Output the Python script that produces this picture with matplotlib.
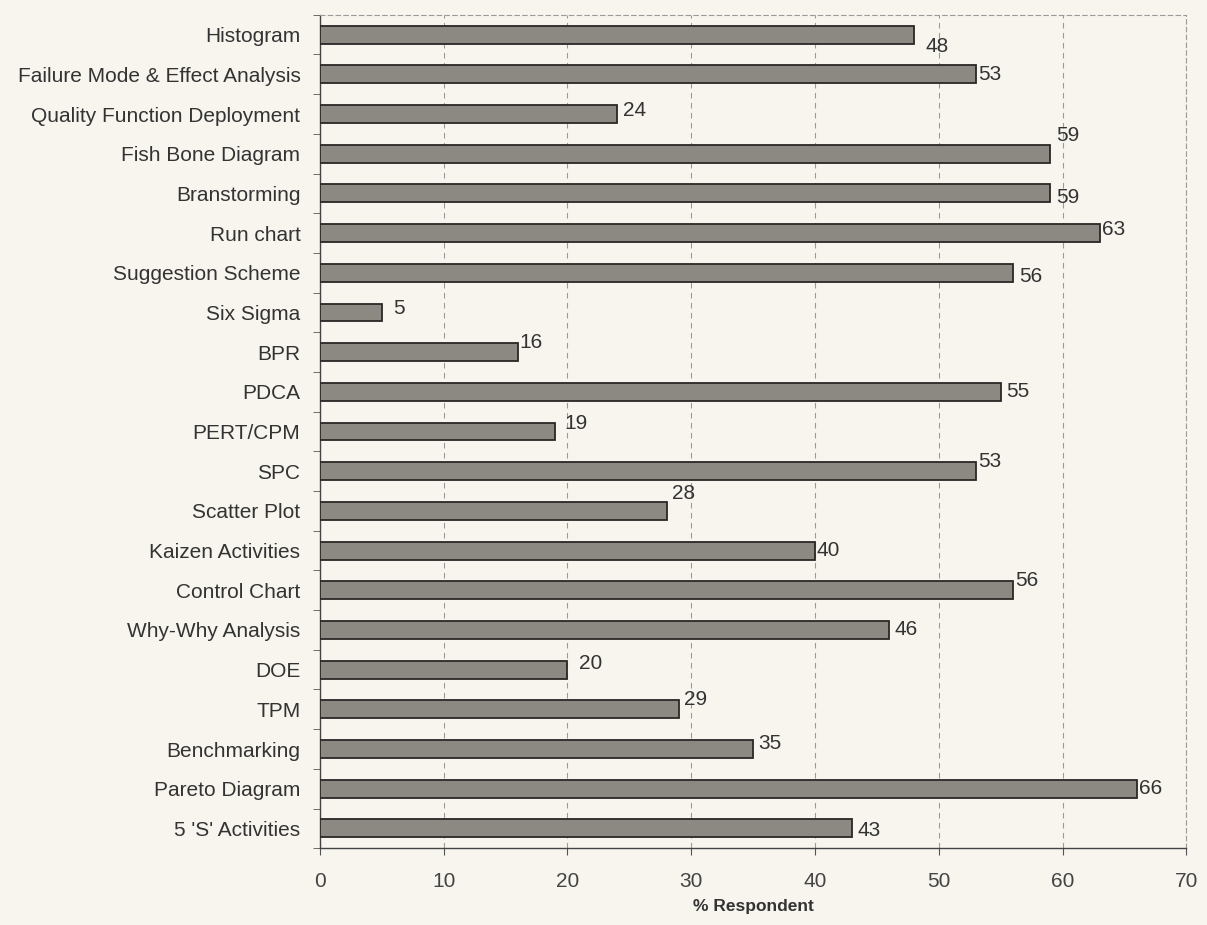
import matplotlib
matplotlib.use("Agg")
import matplotlib.pyplot as plt
import numpy as np

categories = ["Histogram", "Failure Mode & Effect Analysis", "Quality Function Deployment",
              "Fish Bone Diagram", "Branstorming", "Run chart", "Suggestion Scheme",
              "Six Sigma", "BPR", "PDCA", "PERT/CPM", "SPC", "Scatter Plot",
              "Kaizen Activities", "Control Chart", "Why-Why Analysis", "DOE", "TPM",
              "Benchmarking", "Pareto Diagram", "5 'S' Activities"]
values = [48, 53, 24, 59, 59, 63, 56, 5, 16, 55, 19, 53, 28, 40, 56, 46, 20, 29, 35, 66, 43]
xticks = [0, 10, 20, 30, 40, 50, 60, 70]

# label offsets to mimic placement (dx in data units, dy in category units, positive = up)
label_dx = [0.8, 0.0, 0.3, 0.3, 0.3, 0.0, 0.3, 0.8, 0.0, 0.3, 0.6, 0.0, 0.3,
            0.0, 0.0, 0.3, 0.8, 0.3, 0.3, 0.0, 0.3]
label_dy = [-0.3, 0.0, 0.1, 0.45, -0.1, 0.1, -0.1, 0.1, 0.25, 0.0, 0.2, 0.25, 0.45,
            0.0, 0.25, 0.0, 0.15, 0.25, 0.15, 0.0, -0.05]

plt.rcParams['font.family'] = ['Liberation Sans', 'DejaVu Sans']
bg = "#f7f5ee"
fig = plt.figure(figsize=(12.07, 9.25), dpi=100, facecolor=bg)
ax = fig.add_axes([0.265, 0.083, 0.718, 0.901], facecolor=bg)

y = np.arange(len(categories))
ax.barh(y, values, height=0.45, color="#8c8882", edgecolor="#2a2826", linewidth=1.3, zorder=3)
for yi, v, dx, dy in zip(y, values, label_dx, label_dy):
    ax.text(v + 0.15 + dx, yi - dy, str(v), va="center", ha="left", fontsize=15,
            color="#333333", zorder=4)

ax.set_ylim(len(categories) - 0.5, -0.5)
ax.set_xlim(0, 70)
ax.set_yticks(y)
ax.set_yticklabels(categories, fontsize=15, color="#333333")
ax.set_yticks(np.arange(-0.5, len(categories), 1), minor=True)
ax.tick_params(axis="y", which="major", length=0, pad=14)
ax.tick_params(axis="y", which="minor", length=5, color="#555555")
ax.set_xticks(xticks)
ax.set_xticklabels([str(t) for t in xticks], fontsize=15, color="#444444")
ax.tick_params(axis="x", length=5, pad=12, color="#555555")
ax.set_xlabel("% Respondent", fontsize=12.5, fontweight="bold", color="#333333", labelpad=6)

ax.grid(axis="x", linestyle=(0, (5, 4)), color="#9a9a9a", linewidth=0.8, zorder=0)
for s in ["top", "right"]:
    ax.spines[s].set_linestyle((0, (4, 3)))
    ax.spines[s].set_color("#9a9a9a")
    ax.spines[s].set_linewidth(0.8)
for s in ["left", "bottom"]:
    ax.spines[s].set_color("#444444")
    ax.spines[s].set_linewidth(1.0)

fig.savefig("out.png", dpi=100, facecolor=bg)
